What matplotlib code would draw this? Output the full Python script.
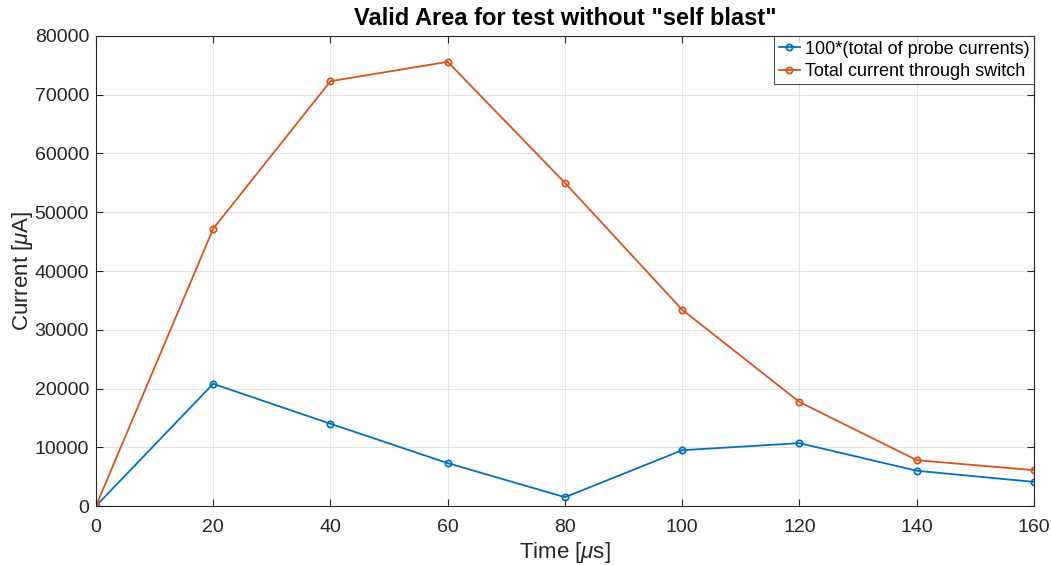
import numpy as np
import matplotlib
matplotlib.use('Agg')
import matplotlib.pyplot as plt

plt.rcParams['font.family'] = ['Liberation Sans', 'DejaVu Sans']
plt.rcParams['mathtext.fontset'] = 'custom'
plt.rcParams['mathtext.it'] = 'Liberation Sans:italic'
plt.rcParams['mathtext.rm'] = 'Liberation Sans'

# --- DATA ---
time_us = [0, 20, 40, 60, 80, 100, 120, 140, 160]
probe_x100 = [0, 20800, 14000, 7300, 1500, 9500, 10700, 6000, 4100]
switch_total = [0, 47200, 72300, 75600, 55000, 33400, 17700, 7800, 6100]

blue = '#0072BD'
orange = '#D95319'

fig = plt.figure(figsize=(10.51, 5.65), dpi=100)
ax = fig.add_axes([0.0913, 0.1044, 0.8925, 0.8319])

ax.plot(time_us, probe_x100, '-o', color=blue, lw=1.3, ms=4.5, mfc='none', mew=1.3,
        label='100*(total of probe currents)')
ax.plot(time_us, switch_total, '-o', color=orange, lw=1.3, ms=4.5, mfc='none', mew=1.3,
        label='Total current through switch')

ax.set_xlim(0, 160)
ax.set_ylim(0, 80000)
ax.set_xticks(np.arange(0, 161, 20))
ax.set_yticks(np.arange(0, 80001, 10000))
ax.grid(True, color='#e3e3e3', lw=0.8)
ax.set_axisbelow(True)
ax.tick_params(direction='in', top=True, right=True, labelsize=14, colors='#262626',
               length=5, width=0.8)
ax.tick_params(axis='x', pad=9)
ax.tick_params(axis='y', pad=5)
for s in ax.spines.values():
    s.set_color('#262626')
    s.set_linewidth(0.8)

ax.set_xlabel(r'Time [$\mu$s]', fontsize=16, color='#262626', labelpad=3)
ax.set_ylabel(r'Current [$\mu$A]', fontsize=16, color='#262626', labelpad=0)
ax.set_title('Valid Area for test without "self blast"', fontsize=17, fontweight='bold', pad=8)

leg = ax.legend(loc='upper right', fontsize=13, frameon=True, fancybox=False,
                borderaxespad=0.0, handlelength=1.2, handletextpad=0.25,
                borderpad=0.25, labelspacing=0.3)
leg.get_frame().set_edgecolor('#262626')
leg.get_frame().set_linewidth(0.8)

fig.savefig('out.png', dpi=100)
